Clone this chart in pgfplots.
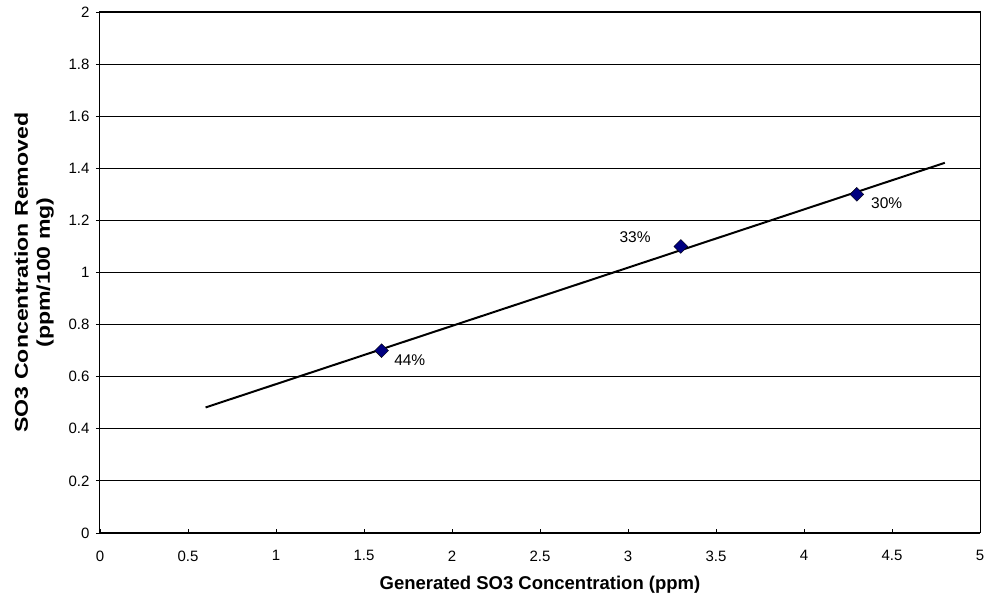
\documentclass[border=0pt]{standalone}
\usepackage{pgfplots}
\pgfplotsset{compat=1.18}
\usepackage{fontspec}
\setmainfont{Liberation Sans}
\usetikzlibrary{calc}
\definecolor{navy}{RGB}{0,0,128}
\begin{document}
\begin{tikzpicture}
\begin{axis}[
  name=ax,
  scale only axis,
  width=880pt, height=521pt,
  xmin=0, xmax=5, ymin=0, ymax=2,
  xtick={0,0.5,...,5},
  ytick={0,0.2,...,2},
  xticklabels={0,0.5,1,1.5,2,2.5,3,3.5,4,4.5,5},
  yticklabels={0,0.2,0.4,0.6,0.8,1,1.2,1.4,1.6,1.8,2},
  ymajorgrids,
  major grid style={black, line width=0.8pt},
  axis line style={black, line width=1pt},
  x tick style={black, line width=0.8pt},
  y tick style={black, line width=0.8pt},
  xtick pos=bottom, ytick pos=left,
  xtick align=inside, ytick align=outside,
  major tick length=4pt,
  tick label style={font=\fontsize{15}{18}\selectfont},
  xticklabel style={yshift=-14pt},
  yticklabel style={xshift=-3pt},
  label style={font=\fontsize{18.5}{22}\selectfont\bfseries},
  xlabel={Generated SO3 Concentration (ppm)},
  ylabel={\scalebox{1.25}[1]{SO3 Concentration Removed}\\\scalebox{1.25}[1]{(ppm/100 mg)}},
  ylabel style={align=center, yshift=8pt},
  xlabel style={yshift=-8pt},
]
\addplot[black, line width=2pt] coordinates {(0.6,0.482) (4.8,1.421)};
\addplot[only marks, mark=square*, mark size=4.9pt, mark options={rotate=45, fill=navy, draw=black, line width=0.4pt}] coordinates {(1.6,0.7) (3.3,1.1) (4.3,1.3)};
\node[font=\fontsize{15.5}{18}\selectfont] at (axis cs:1.76,0.664) {44\%};
\node[font=\fontsize{15.5}{18}\selectfont] at (axis cs:3.04,1.136) {33\%};
\node[font=\fontsize{15.5}{18}\selectfont] at (axis cs:4.47,1.267) {30\%};
\end{axis}
\pgfresetboundingbox
\path ($(ax.south west)+(-100pt,-68pt)$) rectangle ($(ax.north east)+(7pt,12pt)$);
\end{tikzpicture}
\end{document}
